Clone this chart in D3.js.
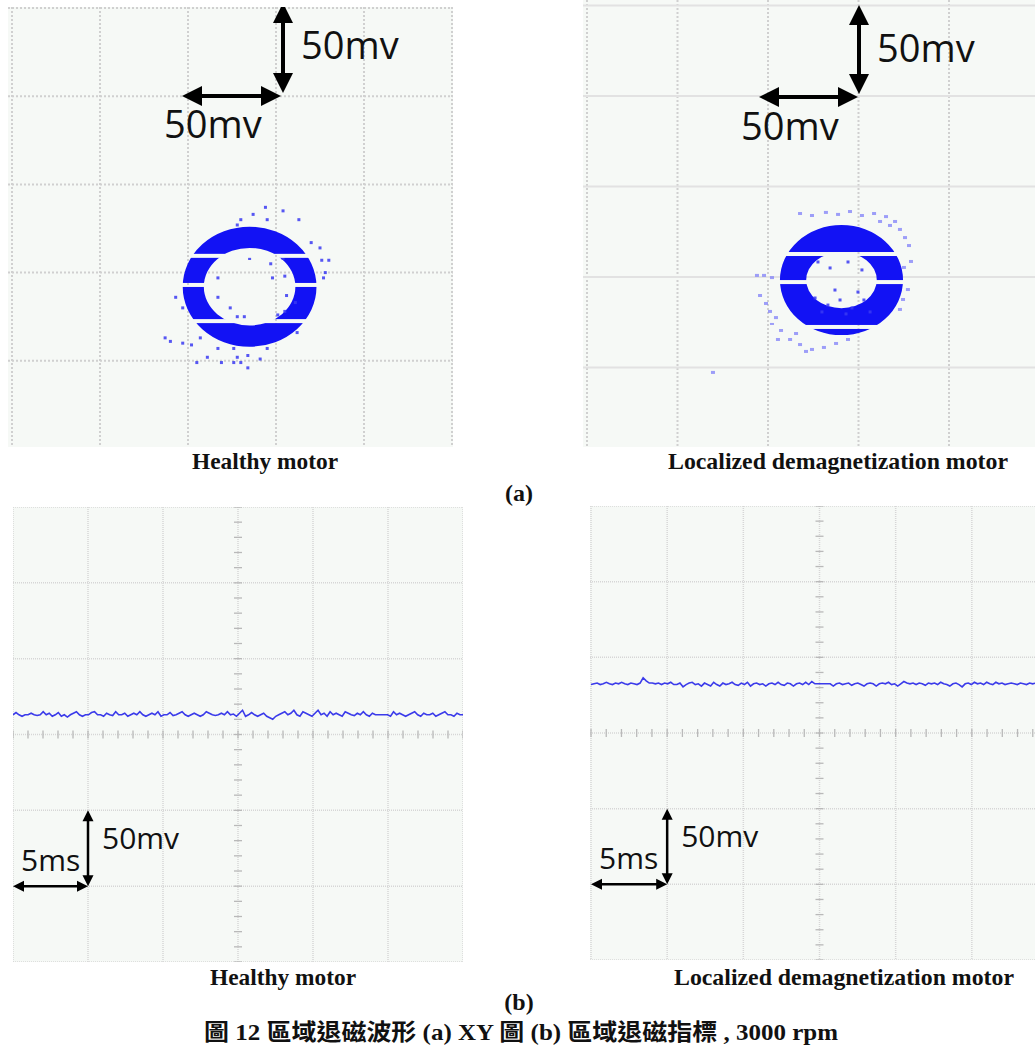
<!DOCTYPE html>
<html>
<head>
<meta charset="utf-8">
<script src="https://cdn.jsdelivr.net/npm/d3@7"></script>
<style>
  body { margin: 0; background: #fff; }
  svg { display: block; }
</style>
</head>
<body>
<svg id="fig" width="1035" height="1048"></svg>
<script>
// ---- data -------------------------------------------------------------
// XY mode: 5 x 5 divisions, 50 mV per division
const xyTicks = [0, 50, 100, 150, 200, 250];

// ring: [cx, cy, outer rx, outer ry, inner rx, inner ry] in mV
const healthyRing = [135, 92, 38, 34, 26, 22];
const demagRing = [140.6, 98.3, 34, 30.4, 19.5, 15.5];

// horizontal white slices through the ring (mV)
const healthyGaps = [109.5, 93, 72.5];
const demagGaps = [112.7, 97.2, 72.4];

// scattered samples around the ring [x, y] in mV
const healthyDots = [
  [144,137],[154,135],[137,133],[130,130],[145,130],[163,130],[128,127],[170,117],
  [175,114],[176,107],[180,107],[178,100],[177,97],[135,108],[147,105],[154,108],
  [117,97],[148,97],[155,98],[93,86],[97,80],[117,86],[124,80],[156,87],[161,83],
  [155,78],[128,75],[132,75],[151,76],[87,63],[90,61],[97,60],[102,59],[107,63],
  [162,66],[117,57],[126,57],[145,57],[111,52],[128,52],[134,53],[105,49],[119,49],
  [126,49],[134,46],[141,51],[130,49]
];
const demagDots = [
  [126,88.4],[133.1,84.5],[139.8,87.3],[146.4,82.9],[153,87.3],[129.8,80.7],
  [143.1,79.6],[156.4,80.7],[137,92.8],[149.7,91.7],[127.6,108.3],[144.2,108.3],
  [151.9,103.9],[134.3,105]
];
const demagHalo = [
  [117.7,134.8],[124.3,133.7],[132,135.4],[138.7,134.3],[145.3,135.9],[151.9,133.7],
  [158.6,134.8],[165.2,133.1],[170.2,130.4],[172.9,126],[175.7,121.5],[177.9,117.1],
  [176.2,112.2],[179,108.3],[175.1,105],[177.3,92.8],[174.6,87.3],[172.9,81.8],
  [93.9,100.6],[97.8,100.6],[102.2,99.4],[95.6,89.5],[98.9,85.1],[101.1,80.7],
  [104.4,77.3],[102.2,73.5],[107.2,70.2],[105.5,65.2],[112.2,65.2],[117.7,62.4],
  [124.3,59.7],[130.9,60.8],[137.6,63],[144.2,65.2],[121,58.6],[115.5,68.5],
  [69.6,47],[167.4,128.2],[161.9,130.4]
];

// YT mode: 6 x 6 divisions, 5 ms and 50 mV per division
const timeTicks = [0, 5, 10, 15, 20, 25, 30];
const voltTicks = [-150, -100, -50, 0, 50, 100, 150];

// index voltage (mV), 150 samples over 30 ms
const healthyTrace = [
  13,14.5,13,12,13,13,14,13,12.5,13,
  15,13,14,12,13,14.5,12,13,11.5,13,
  14,15,13,12,13,13,14.5,15,13,13,
  12,14,13,12.5,15,13,13,14,12,13,
  14,13,15,13,12,13,14,13,15,12,
  13,13,14.5,12.5,13,14,15,13,12,13,
  14,13,12,13,15,14,13,12.5,13,14,
  13,15,13,13.5,12,14,16,12,13,14.5,
  13,12,13,14,12,11,10,12,13,14,
  15,13,14,16,13,12,15,14,13,12,
  14,16,13,14,12,15,13,14,13,12,
  15,14,13,12.5,14,13,15,13,12,14,
  13,13,13,13,13,12,15,13,14,13,
  12,13,14,15,13,12,14,13,13,14,
  12,13,14,15,13,13,12,14,13,13
];
const demagTrace = [
  32,32.5,33,32,32.5,33.5,32.5,32,33,32.5,
  33.5,32.5,32,33,32.5,32,33,36.5,34.5,33,
  33,32.5,33,32,33,32.5,33.5,32,32,33,
  30.5,32,33,33.5,32,32.5,31,33,32,31,
  33.5,32,31,33,32,32.5,33.5,32,31.5,33,
  32,33.5,31,32.5,33,32,32.5,31,32.5,33,
  32,33.5,32,31.5,33,32.5,31,32.5,33,32,
  33.5,32,34,32.5,32.5,32.5,32.5,32.5,32.5,31,
  32.5,33,32,32.5,33,31.5,32.5,33,32,31,
  32.5,33,32.5,31,32.5,33,32.5,33.5,32,32.5,
  31,32.5,34,33,32.5,33,32,33,32.5,31.5,
  33,32.5,33,32,33.5,32.5,32,31,32.5,33,
  32,30.5,32.5,33,32,33.5,32.5,33,32,33.5,
  32.5,32,33.5,32.5,33,32,32.5,33,32.5,32,
  33,32.5,32,33,32.5,33,32,32.5,33,32.5
];

const subTitles = ['Healthy motor', 'Localized demagnetization motor'];
const caption = '圖 12 區域退磁波形 (a) XY 圖 (b) 區域退磁指標 , 3000 rpm';

// ---- drawing ------------------------------------------------------------
const svg = d3.select('#fig');
const defs = svg.append('defs');
const panelBg = '#f6f9f6';
const ringBlue = '#1212f4';
let clipId = 0;

function clipTo(x, y, w, h) {
  const id = 'clip' + (clipId++);
  defs.append('clipPath').attr('id', id)
    .append('rect').attr('x', x).attr('y', y).attr('width', w).attr('height', h);
  return `url(#${id})`;
}

function arrow(g, x1, y1, x2, y2, head, half, sw) {
  // double headed arrow
  const dx = x2 - x1, dy = y2 - y1;
  const len = Math.sqrt(dx * dx + dy * dy);
  const ux = dx / len, uy = dy / len;
  g.append('line')
    .attr('x1', x1 + ux * head * 0.8).attr('y1', y1 + uy * head * 0.8)
    .attr('x2', x2 - ux * head * 0.8).attr('y2', y2 - uy * head * 0.8)
    .attr('stroke', '#000').attr('stroke-width', sw);
  const tri = (px, py, sx, sy) => {
    const bx = px + sx * head, by = py + sy * head;
    return `M${px},${py}L${bx - sy * half},${by + sx * half}L${bx + sy * half},${by - sx * half}Z`;
  };
  g.append('path').attr('d', tri(x1, y1, ux, uy)).attr('fill', '#000');
  g.append('path').attr('d', tri(x2, y2, -ux, -uy)).attr('fill', '#000');
}

function ellipsePath(cx, cy, rx, ry) {
  return `M${cx - rx},${cy}A${rx},${ry} 0 1 0 ${cx + rx},${cy}A${rx},${ry} 0 1 0 ${cx - rx},${cy}Z`;
}

function xyPanel(o) {
  const g = svg.append('g').attr('clip-path', clipTo(o.box[0], o.box[1], o.box[2], o.box[3]));
  g.append('rect')
    .attr('x', o.box[0]).attr('y', o.box[1]).attr('width', o.box[2]).attr('height', o.box[3])
    .attr('fill', panelBg);

  const x = d3.scaleLinear().domain([0, 250]).range(o.xr);
  const y = d3.scaleLinear().domain([0, 250]).range(o.yr);

  // grid
  g.append('g').selectAll('line').data(xyTicks).join('line')
    .attr('x1', d => x(d)).attr('x2', d => x(d))
    .attr('y1', o.box[1]).attr('y2', o.box[1] + o.box[3])
    .attr('stroke', '#d0d0d0').attr('stroke-width', 2).attr('stroke-dasharray', '2,2');
  g.append('g').selectAll('line').data(xyTicks).join('line')
    .attr('x1', o.box[0]).attr('x2', o.box[0] + o.box[2])
    .attr('y1', d => y(d)).attr('y2', d => y(d))
    .attr('stroke', o.solidRows ? '#e2e2e2' : '#d0d0d0').attr('stroke-width', 2)
    .attr('stroke-dasharray', o.solidRows ? null : '2,2');

  // ring with horizontal white slices
  const r = o.ring;
  const maskId = 'mask' + (clipId++);
  const mask = defs.append('mask').attr('id', maskId);
  mask.append('rect').attr('x', 0).attr('y', 0).attr('width', 1035).attr('height', 1048).attr('fill', '#fff');
  mask.selectAll('rect.gap').data(o.gaps).join('rect').attr('class', 'gap')
    .attr('x', 0).attr('width', 1035)
    .attr('y', d => y(d) - 2).attr('height', 4).attr('fill', '#000');

  const rg = g.append('g').attr('mask', `url(#${maskId})`);
  const cx = x(r[0]), cy = y(r[1]);
  const rxo = x(r[0] + r[2]) - cx, ryo = cy - y(r[1] + r[3]);
  const rxi = x(r[0] + r[4]) - cx, ryi = cy - y(r[1] + r[5]);

  if (o.halo) {
    rg.append('g').selectAll('rect').data(o.halo).join('rect')
      .attr('x', d => x(d[0]) - 2).attr('y', d => y(d[1]) - 2)
      .attr('width', 4).attr('height', 3)
      .attr('fill', '#7f7ff8').attr('opacity', 0.75);
  }
  rg.append('path')
    .attr('d', ellipsePath(cx, cy, rxo, ryo) + ellipsePath(cx, cy, rxi, ryi))
    .attr('fill-rule', 'evenodd')
    .attr('fill', ringBlue);
  rg.append('g').selectAll('rect').data(o.dots).join('rect')
    .attr('x', d => x(d[0]) - 1.5).attr('y', d => y(d[1]) - 1.5)
    .attr('width', 3).attr('height', 3)
    .attr('fill', '#3a3af2').attr('opacity', 0.85);

  // scale arrows: one division each
  const a = g.append('g');
  arrow(a, o.vArrow[0], o.vArrow[1], o.vArrow[0], o.vArrow[2], 20, 10, 4);
  arrow(a, o.hArrow[1], o.hArrow[0], o.hArrow[2], o.hArrow[0], 20, 10, 4);
  a.append('text').attr('x', o.vLabel[0]).attr('y', o.vLabel[1]).text('50mv')
    .attr('font-family', 'Open Sans, sans-serif').attr('font-size', 38).attr('fill', '#111');
  a.append('text').attr('x', o.hLabel[0]).attr('y', o.hLabel[1]).text('50mv')
    .attr('font-family', 'Open Sans, sans-serif').attr('font-size', 38).attr('fill', '#111');
}

function ytPanel(o) {
  const g = svg.append('g').attr('clip-path', clipTo(o.box[0], o.box[1], o.box[2], o.box[3]));
  g.append('rect')
    .attr('x', o.box[0]).attr('y', o.box[1]).attr('width', o.box[2]).attr('height', o.box[3])
    .attr('fill', panelBg);

  const x = d3.scaleLinear().domain([0, 30]).range(o.xr);
  const y = d3.scaleLinear().domain([-150, 150]).range(o.yr);

  g.append('g').selectAll('line').data(timeTicks).join('line')
    .attr('x1', d => x(d)).attr('x2', d => x(d))
    .attr('y1', o.box[1]).attr('y2', o.box[1] + o.box[3])
    .attr('stroke', '#d6d6d6').attr('stroke-width', 1.5).attr('stroke-dasharray', '1,1');
  g.append('g').selectAll('line').data(voltTicks).join('line')
    .attr('x1', o.box[0]).attr('x2', o.box[0] + o.box[2])
    .attr('y1', d => y(d)).attr('y2', d => y(d))
    .attr('stroke', '#d6d6d6').attr('stroke-width', 1.5).attr('stroke-dasharray', '1,1');

  // minor ticks on the centre cross
  const cxp = x(15), cyp = y(0);
  g.append('g').selectAll('line').data(x.ticks(30)).join('line')
    .attr('x1', d => x(d)).attr('x2', d => x(d))
    .attr('y1', cyp - 4).attr('y2', cyp + 4)
    .attr('stroke', '#b9b9b9').attr('stroke-width', 1.3);
  g.append('g').selectAll('line').data(y.ticks(30)).join('line')
    .attr('x1', cxp - 4).attr('x2', cxp + 4)
    .attr('y1', d => y(d)).attr('y2', d => y(d))
    .attr('stroke', '#b9b9b9').attr('stroke-width', 1.3);

  const t = d3.scaleLinear().domain([0, o.trace.length - 1]).range([0, 30]);
  const line = d3.line().x((d, i) => x(t(i))).y(d => y(d));
  g.append('path').datum(o.trace)
    .attr('d', line)
    .attr('fill', 'none').attr('stroke', '#3b3bea').attr('stroke-width', 1.6);

  // scale arrows: one division each
  const a = g.append('g');
  const ax = x(5), ay = y(-100);
  arrow(a, ax, ay, ax, y(-50), 11, 5.5, 2.5);
  arrow(a, x(0), ay, ax, ay, 11, 5.5, 2.5);
  a.append('text').attr('x', ax + 14).attr('y', ay - 37).text('50mv')
    .attr('font-family', 'Open Sans, sans-serif').attr('font-size', 30).attr('fill', '#111');
  a.append('text').attr('x', x(0) + 8).attr('y', ay - 15).text('5ms')
    .attr('font-family', 'Open Sans, sans-serif').attr('font-size', 30).attr('fill', '#111');
}

xyPanel({
  box: [8, 7, 445, 440], xr: [12, 452], yr: [449, 8],
  ring: healthyRing, gaps: healthyGaps, dots: healthyDots,
  vArrow: [283, 3, 93], hArrow: [96, 182, 281],
  vLabel: [301, 59], hLabel: [164, 138]
});
xyPanel({
  box: [583, 0, 452, 447], xr: [587, 1039.5], yr: [458, 5.5], solidRows: true,
  ring: demagRing, gaps: demagGaps, dots: demagDots, halo: demagHalo,
  vArrow: [859, 5, 94], hArrow: [97, 759, 858],
  vLabel: [877, 62], hLabel: [741, 140]
});
ytPanel({ box: [13, 507, 450, 455], xr: [13, 463], yr: [962, 507], trace: healthyTrace });
ytPanel({ box: [590, 506, 445, 454], xr: [591, 1048], yr: [960, 506], trace: demagTrace });

// ---- captions ---------------------------------------------------------
const serif = 'Liberation Serif, Times New Roman, serif';
const titleRows = [
  { y: 469, label: '(a)', ly: 501 },
  { y: 985, label: '(b)', ly: 1010 }
];
const titleX = [[265, 146], [838, 340]];
const titleXb = [[283, 146], [844, 340]];
titleRows.forEach((row, r) => {
  const xs = r === 0 ? titleX : titleXb;
  subTitles.forEach((s, i) => {
    svg.append('text').attr('x', xs[i][0]).attr('y', row.y)
      .attr('text-anchor', 'middle')
      .attr('textLength', xs[i][1]).attr('lengthAdjust', 'spacingAndGlyphs')
      .attr('font-family', serif).attr('font-weight', 'bold').attr('font-size', 24)
      .attr('fill', '#111').text(s);
  });
  svg.append('text').attr('x', 519).attr('y', row.ly).attr('text-anchor', 'middle')
    .attr('font-family', serif).attr('font-weight', 'bold').attr('font-size', 24)
    .attr('fill', '#111').text(row.label);
});
svg.append('text').attr('x', 521).attr('y', 1040).attr('text-anchor', 'middle')
  .attr('textLength', 634).attr('lengthAdjust', 'spacingAndGlyphs')
  .attr('font-family', 'Liberation Serif, Noto Sans CJK TC, serif')
  .attr('font-weight', 'bold').attr('font-size', 23)
  .attr('fill', '#111').text(caption);
</script>
</body>
</html>
